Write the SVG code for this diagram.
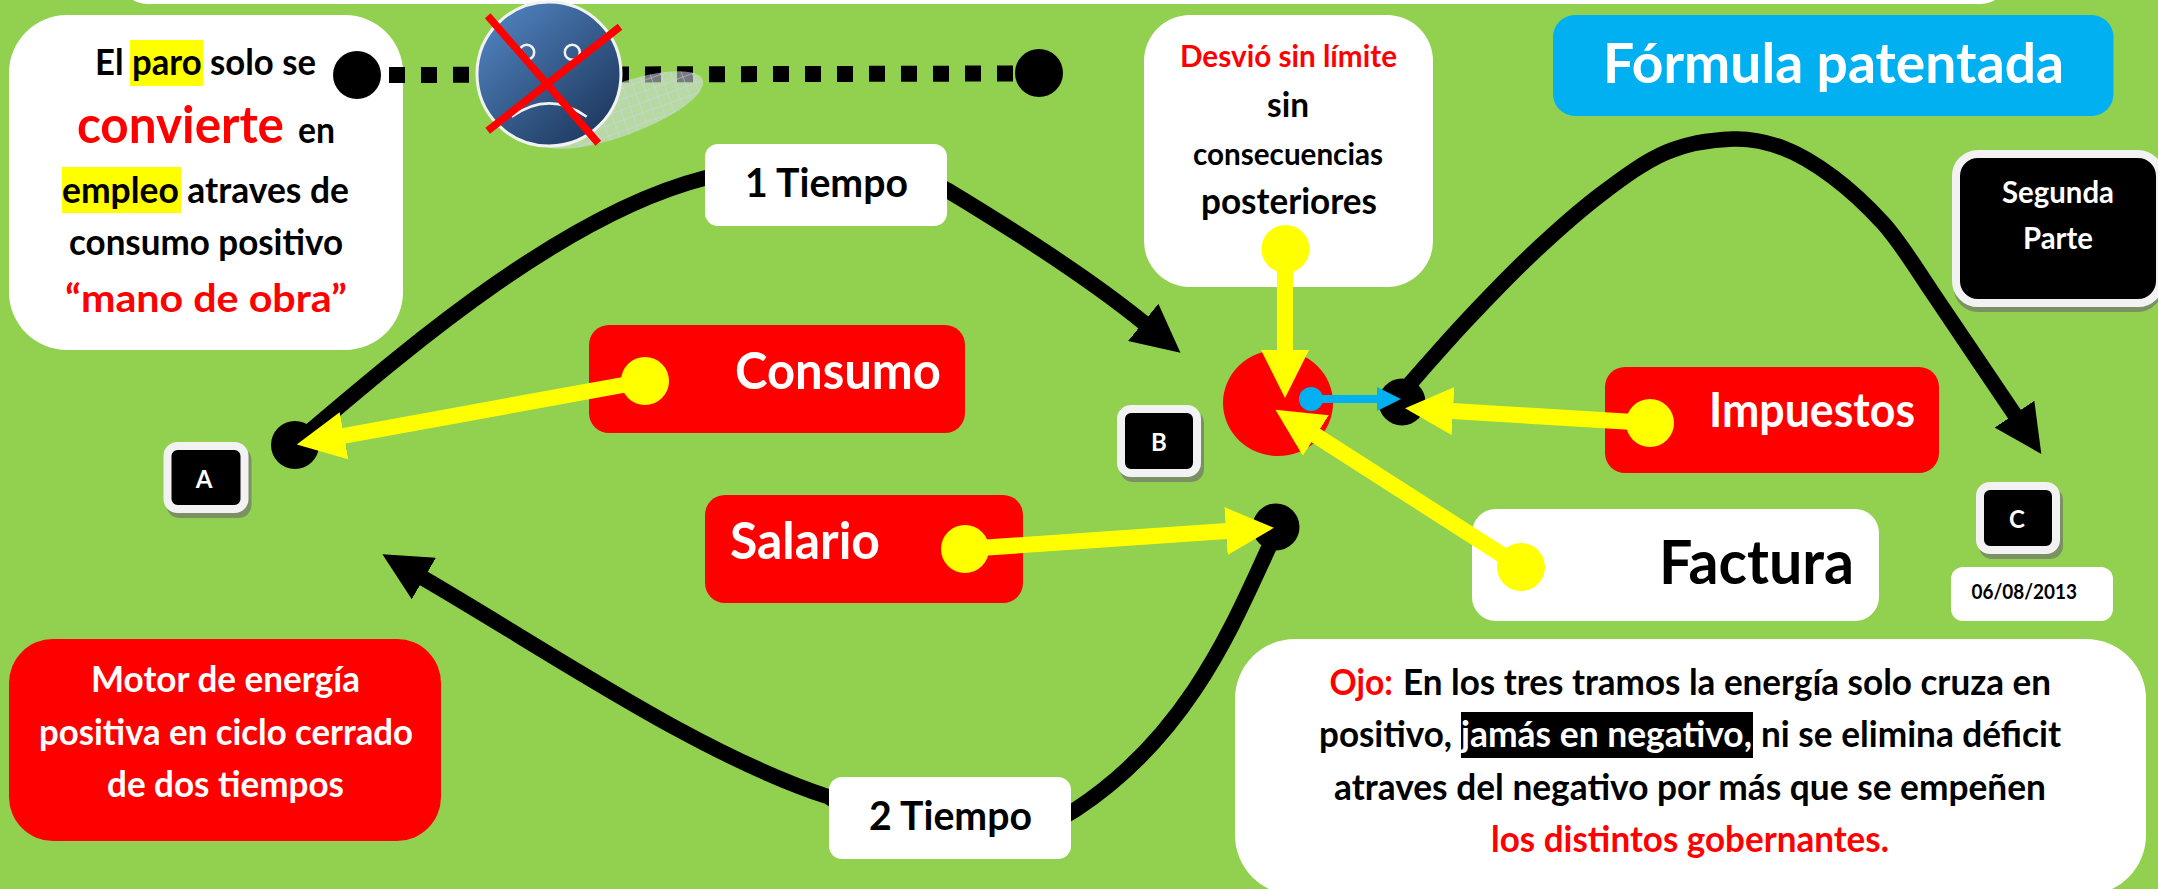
<svg xmlns="http://www.w3.org/2000/svg" width="2158" height="889" viewBox="0 0 2158 889">
<style>
text{font-family:"Lato","Open Sans","Liberation Sans",sans-serif;font-weight:700;fill:#000}
.w{fill:#fff}.r{fill:#f00}
.curve{fill:none;stroke:#000;stroke-width:15.500;marker-end:url(#ah)}
.yl{stroke:#ff0;stroke-width:16;marker-end:url(#ay)}
.yd{fill:#ff0}.bd{fill:#000}
.white{fill:#fff}.red{fill:#f00}
.key{fill:#000;stroke:#f2f2f2;stroke-width:8}
.sh{fill:#7c9163}
</style>
<defs>
<marker id="ah" markerUnits="userSpaceOnUse" markerWidth="48" markerHeight="48" refX="1" refY="24" orient="auto" viewBox="0 0 48 48"><polygon points="0,0 48,24 0,48" fill="#000"/></marker>
<marker id="ay" markerUnits="userSpaceOnUse" markerWidth="48" markerHeight="48" refX="1" refY="24" orient="auto" viewBox="0 0 48 48"><polygon points="0,0 48,24 0,48" fill="#ff0"/></marker>
<marker id="ab" markerUnits="userSpaceOnUse" markerWidth="24" markerHeight="24" refX="1" refY="12" orient="auto" viewBox="0 0 24 24"><polygon points="0,0 24,12 0,24" fill="#00b0f0"/></marker>
<linearGradient id="face" x1="0.1" y1="0.1" x2="0.85" y2="0.9"><stop offset="0" stop-color="#4f81bd"/><stop offset="1" stop-color="#1f3a60"/></linearGradient>
<pattern id="grid" width="10" height="10" patternUnits="userSpaceOnUse"><rect width="10" height="10" fill="#d8dfe6" fill-opacity="0.55"/><path d="M0,0H10M0,0V10" stroke="#c6d6f0" stroke-width="1"/></pattern>
</defs>
<rect width="2158" height="889" fill="#92d050"/>
<rect id="top-bar" x="118" y="-60" width="1892" height="64" rx="30" class="white"/>

<g id="paro">
<rect x="9" y="15" width="394" height="335" rx="58" class="white"/>
<rect x="130" y="40" width="73" height="46" fill="#ff0"/>
<rect x="62" y="167" width="119" height="46" fill="#ff0"/>
<text x="95" y="75" font-size="36.500" textLength="221" lengthAdjust="spacingAndGlyphs">El paro solo se</text>
<text x="77" y="143" font-size="51" class="r" textLength="207" lengthAdjust="spacingAndGlyphs">convierte</text>
<text x="298" y="143" font-size="36" textLength="37" lengthAdjust="spacingAndGlyphs">en</text>
<text x="62" y="203" font-size="36.500" textLength="287" lengthAdjust="spacingAndGlyphs">empleo atraves de</text>
<text x="69" y="255" font-size="36.500" textLength="274" lengthAdjust="spacingAndGlyphs">consumo positivo</text>
<text x="65" y="312" font-size="39" class="r" textLength="282" lengthAdjust="spacingAndGlyphs">“mano de obra”</text>
</g>
<g id="desvio">
<rect x="1144" y="15" width="289" height="272" rx="46" class="white"/>
<text x="1180" y="67" font-size="31" class="r" textLength="217" lengthAdjust="spacingAndGlyphs">Desvió sin límite</text>
<text x="1267" y="117" font-size="35" textLength="42" lengthAdjust="spacingAndGlyphs">sin</text>
<text x="1193" y="165" font-size="31" textLength="190" lengthAdjust="spacingAndGlyphs">consecuencias</text>
<text x="1201" y="214" font-size="36.500" textLength="176" lengthAdjust="spacingAndGlyphs">posteriores</text>
</g>
<g id="formula">
<rect x="1553" y="15" width="560.500" height="101" rx="22" fill="#00b0f0"/>
<text x="1603" y="83" font-size="56" class="w" textLength="461" lengthAdjust="spacingAndGlyphs">Fórmula patentada</text>
</g>
<g id="segunda-parte">
<rect x="1954" y="160" width="208" height="152" rx="24" class="sh"/>
<rect x="1956" y="154" width="204" height="149" rx="22" class="key"/>
<text x="2002" y="203" font-size="31" class="w" textLength="112" lengthAdjust="spacingAndGlyphs">Segunda</text>
<text x="2023" y="249" font-size="31" class="w" textLength="70" lengthAdjust="spacingAndGlyphs">Parte</text>
</g>
<g id="consumo">
<rect x="589" y="325" width="376" height="108" rx="20" class="red"/>
<text x="735" y="389" font-size="51.500" class="w" textLength="206" lengthAdjust="spacingAndGlyphs">Consumo</text>
</g>
<g id="salario">
<rect x="705" y="495" width="318" height="108" rx="20" class="red"/>
<text x="730" y="559" font-size="51.500" class="w" textLength="150" lengthAdjust="spacingAndGlyphs">Salario</text>
</g>
<g id="impuestos">
<rect x="1605" y="367" width="334" height="106" rx="20" class="red"/>
<text x="1709" y="427" font-size="47" class="w" textLength="206" lengthAdjust="spacingAndGlyphs">Impuestos</text>
</g>
<g id="factura">
<rect x="1472" y="509" width="407" height="112" rx="24" class="white"/>
<text x="1659" y="584" font-size="61" textLength="195" lengthAdjust="spacingAndGlyphs">Factura</text>
</g>
<g id="key-a">
<rect x="166.500" y="447" width="85" height="71" rx="13" class="sh"/>
<rect x="167.500" y="446" width="77" height="63" rx="10" class="key"/>
<text x="204" y="488" font-size="24" class="w" text-anchor="middle">A</text>
</g>
<g id="key-b">
<rect x="1120" y="410" width="84" height="72" rx="13" class="sh"/>
<rect x="1121" y="409" width="76" height="64" rx="10" class="key"/>
<text x="1159" y="451" font-size="24" class="w" text-anchor="middle">B</text>
</g>
<g id="key-c">
<rect x="1979" y="487" width="84" height="72" rx="13" class="sh"/>
<rect x="1980" y="486" width="76" height="64" rx="10" class="key"/>
<text x="2017" y="528" font-size="24" class="w" text-anchor="middle">C</text>
</g>
<g id="fecha">
<rect x="1951" y="567" width="162" height="54" rx="12" class="white"/>
<text x="1971.500" y="599" font-size="21" textLength="105.500" lengthAdjust="spacingAndGlyphs">06/08/2013</text>
</g>
<g id="motor">
<rect x="9" y="639" width="432" height="202" rx="44" class="red"/>
<text x="91" y="692" font-size="36.500" class="w" textLength="269" lengthAdjust="spacingAndGlyphs">Motor de energía</text>
<text x="39" y="745" font-size="36.500" class="w" textLength="374" lengthAdjust="spacingAndGlyphs">positiva en ciclo cerrado</text>
<text x="107" y="797" font-size="36.500" class="w" textLength="237" lengthAdjust="spacingAndGlyphs">de dos tiempos</text>
</g>
<g id="ojo">
<rect x="1235" y="639" width="911" height="256" rx="60" class="white"/>
<rect x="1461" y="712" width="292" height="46"/>
<text x="1329.500" y="695" font-size="37" class="r" textLength="63.500" lengthAdjust="spacingAndGlyphs">Ojo:</text>
<text x="1403" y="695" font-size="37" textLength="648" lengthAdjust="spacingAndGlyphs">En los tres tramos la energía solo cruza en</text>
<text x="1319" y="747" font-size="37" textLength="133" lengthAdjust="spacingAndGlyphs">positivo,</text>
<text x="1461" y="747" font-size="37" class="w" textLength="291" lengthAdjust="spacingAndGlyphs">jamás en negativo,</text>
<text x="1761" y="747" font-size="37" textLength="300" lengthAdjust="spacingAndGlyphs">ni se elimina déficit</text>
<text x="1334" y="800" font-size="37" textLength="712" lengthAdjust="spacingAndGlyphs">atraves del negativo por más que se empeñen</text>
<text x="1491" y="852" font-size="37" class="r" textLength="398" lengthAdjust="spacingAndGlyphs">los distintos gobernantes.</text>
</g>
<ellipse id="pie" cx="1278" cy="403" rx="55" ry="53" class="red"/>

<g id="connectors">
<line x1="389" y1="75" x2="1015" y2="73.500" stroke="#000" stroke-width="16" stroke-dasharray="16 16"/>
<circle cx="357" cy="75" r="24" class="bd"/>
<circle cx="1039" cy="73" r="24" class="bd"/>
<circle cx="295" cy="445" r="24" class="bd"/>
<circle cx="1276" cy="527" r="23.500" class="bd"/>
<circle cx="1402" cy="402" r="23.500" class="bd"/>
<path class="curve" d="M296,443 C400,355 560,215 705,178 C800,155 900,160 947,190 C1010,228 1085,275 1144,323"/>
<path class="curve" d="M1270,545 C1235,620 1190,735 1075,810 C1000,860 880,835 829,797 C700,755 555,655 423,578"/>
<path class="curve" d="M1407,387 C1417,375.800 1446,342.300 1467,320 C1488,297.700 1510.800,273.800 1533,253 C1555.200,232.200 1577.700,212 1600,195 C1622.300,178 1644.800,161.300 1667,152 C1689.200,142.700 1713.700,139.700 1733,139 C1752.300,138.300 1766.300,141.700 1783,148 C1799.700,154.300 1816.300,164.500 1833,177 C1849.700,189.500 1865.700,204.200 1883,223 C1900,241.500 1917,270 1932,292 C1955,326 1990,378 2015,415"/>
<line x1="1311" y1="399" x2="1378" y2="399" stroke="#00b0f0" stroke-width="8" marker-end="url(#ab)"/>
<circle cx="1311" cy="399" r="12" fill="#00b0f0"/>
<line class="yl" x1="645" y1="381" x2="343" y2="436"/>
<circle cx="645" cy="381" r="24" class="yd"/>
<line class="yl" x1="965" y1="549" x2="1227" y2="531"/>
<circle cx="965" cy="549" r="24" class="yd"/>
<line class="yl" x1="1650" y1="423" x2="1452" y2="411"/>
<circle cx="1650" cy="423" r="24" class="yd"/>
<line class="yl" x1="1285" y1="249" x2="1285" y2="351"/>
<circle cx="1285.500" cy="249" r="24" class="yd"/>
<line class="yl" x1="1521" y1="567" x2="1315" y2="435"/>
<circle cx="1521" cy="567" r="24" class="yd"/>
</g>

<g id="tiempo-1">
<rect x="705" y="144" width="242" height="82" rx="13" class="white"/>
<text x="745" y="197" font-size="41" textLength="163" lengthAdjust="spacingAndGlyphs">1 Tiempo</text>
</g>
<g id="tiempo-2">
<rect x="829" y="777" width="242" height="82" rx="13" class="white"/>
<text x="869" y="830" font-size="41" textLength="163" lengthAdjust="spacingAndGlyphs">2 Tiempo</text>
</g>

<g id="sad-face">
<ellipse cx="620" cy="110" rx="88" ry="26" transform="rotate(-20 620 110)" fill="url(#grid)"/>
<circle cx="549" cy="74" r="72" fill="url(#face)" stroke="#f2f2f2" stroke-width="3"/>
<circle cx="526.700" cy="52.300" r="7.500" fill="none" stroke="#f2f2f2" stroke-width="2.500"/>
<circle cx="572.300" cy="52.300" r="7.500" fill="none" stroke="#f2f2f2" stroke-width="2.500"/>
<path d="M511.700,116.700 Q549,90 586.700,116.700" fill="none" stroke="#f2f2f2" stroke-width="2.500"/>
<path d="M487.700,15.700 L598.300,143.300 M620,26.700 L487.700,130.700" stroke="#f00" stroke-width="7.500" fill="none"/>
</g>
</svg>
